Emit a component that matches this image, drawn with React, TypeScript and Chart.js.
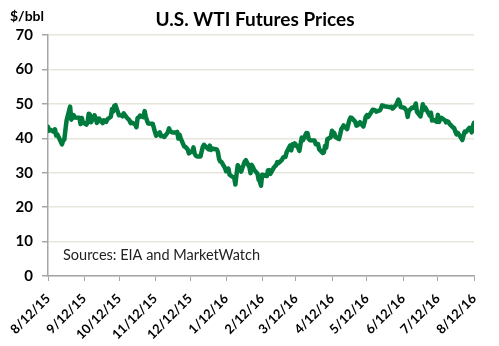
import React, { useEffect, useRef } from "react";
import { Chart, registerables } from "chart.js";

Chart.register(...registerables);

const titleText = "U.S. WTI Futures Prices";
const unitText = "$/bbl";
const sourceText = "Sources: EIA and MarketWatch";

// Trading dates (M/D/YY) and front-month WTI settle prices ($/bbl)
const dates: string[] = [
  "8/12/15","8/13/15","8/14/15","8/17/15","8/18/15","8/19/15","8/20/15","8/21/15","8/24/15","8/25/15","8/26/15","8/27/15","8/28/15","8/31/15",
  "9/1/15","9/2/15","9/3/15","9/4/15","9/8/15","9/9/15","9/10/15","9/11/15","9/14/15","9/15/15","9/16/15","9/17/15","9/18/15","9/21/15","9/22/15","9/23/15","9/24/15","9/25/15","9/28/15","9/29/15","9/30/15",
  "10/1/15","10/2/15","10/5/15","10/6/15","10/7/15","10/8/15","10/9/15","10/12/15","10/13/15","10/14/15","10/15/15","10/16/15","10/19/15","10/20/15","10/21/15","10/22/15","10/23/15","10/26/15","10/27/15","10/28/15","10/29/15","10/30/15",
  "11/2/15","11/3/15","11/4/15","11/5/15","11/6/15","11/9/15","11/10/15","11/11/15","11/12/15","11/13/15","11/16/15","11/17/15","11/18/15","11/19/15","11/20/15","11/23/15","11/24/15","11/25/15","11/27/15","11/30/15",
  "12/1/15","12/2/15","12/3/15","12/4/15","12/7/15","12/8/15","12/9/15","12/10/15","12/11/15","12/14/15","12/15/15","12/16/15","12/17/15","12/18/15","12/21/15","12/22/15","12/23/15","12/24/15","12/28/15","12/29/15","12/30/15","12/31/15",
  "1/4/16","1/5/16","1/6/16","1/7/16","1/8/16","1/11/16","1/12/16","1/13/16","1/14/16","1/15/16","1/19/16","1/20/16","1/21/16","1/22/16","1/25/16","1/26/16","1/27/16","1/28/16","1/29/16",
  "2/1/16","2/2/16","2/3/16","2/4/16","2/5/16","2/8/16","2/9/16","2/10/16","2/11/16","2/12/16","2/16/16","2/17/16","2/18/16","2/19/16","2/22/16","2/23/16","2/24/16","2/25/16","2/26/16","2/29/16",
  "3/1/16","3/2/16","3/3/16","3/4/16","3/7/16","3/8/16","3/9/16","3/10/16","3/11/16","3/14/16","3/15/16","3/16/16","3/17/16","3/18/16","3/21/16","3/22/16","3/23/16","3/24/16","3/28/16","3/29/16","3/30/16","3/31/16",
  "4/1/16","4/4/16","4/5/16","4/6/16","4/7/16","4/8/16","4/11/16","4/12/16","4/13/16","4/14/16","4/15/16","4/18/16","4/19/16","4/20/16","4/21/16","4/22/16","4/25/16","4/26/16","4/27/16","4/28/16","4/29/16",
  "5/2/16","5/3/16","5/4/16","5/5/16","5/6/16","5/9/16","5/10/16","5/11/16","5/12/16","5/13/16","5/16/16","5/17/16","5/18/16","5/19/16","5/20/16","5/23/16","5/24/16","5/25/16","5/26/16","5/27/16","5/31/16",
  "6/1/16","6/2/16","6/3/16","6/6/16","6/7/16","6/8/16","6/9/16","6/10/16","6/13/16","6/14/16","6/15/16","6/16/16","6/17/16","6/20/16","6/21/16","6/22/16","6/23/16","6/24/16","6/27/16","6/28/16","6/29/16","6/30/16",
  "7/1/16","7/5/16","7/6/16","7/7/16","7/8/16","7/11/16","7/12/16","7/13/16","7/14/16","7/15/16","7/18/16","7/19/16","7/20/16","7/21/16","7/22/16","7/25/16","7/26/16","7/27/16","7/28/16","7/29/16",
  "8/1/16","8/2/16","8/3/16","8/4/16","8/5/16","8/8/16","8/9/16","8/10/16","8/11/16","8/12/16",
];

const prices: number[] = [
  43.3,42.23,42.5,41.87,42.62,40.8,41.14,40.45,38.24,39.31,39.6,42.56,45.22,49.2,
  45.41,46.25,46.75,46.05,45.94,44.15,45.92,44.63,44.0,44.59,47.15,46.9,44.68,46.68,45.83,44.48,44.91,45.7,44.43,45.23,45.09,
  44.74,45.54,46.26,48.53,47.81,49.43,49.63,46.66,46.66,46.64,46.38,47.26,45.89,45.55,45.2,44.38,44.6,43.98,43.2,45.94,46.06,46.59,
  46.14,47.9,46.32,45.2,44.29,44.21,44.21,42.93,41.75,40.74,41.74,40.67,40.75,40.54,40.39,41.75,42.87,42.04,41.71,41.65,
  41.85,39.94,41.08,39.97,37.65,37.51,37.16,36.76,35.62,36.31,37.35,35.52,34.95,34.73,34.74,36.14,37.5,38.1,36.81,37.87,36.6,37.04,
  36.76,35.97,33.97,33.27,33.16,31.41,30.44,30.48,31.2,29.42,28.46,26.55,29.53,32.19,30.34,31.45,32.3,33.22,33.62,
  31.62,29.88,32.28,31.72,30.89,29.69,27.94,27.45,26.21,29.44,29.04,30.66,30.77,29.64,31.48,31.87,32.15,33.07,32.78,33.75,
  34.4,34.66,34.57,35.92,37.9,36.5,38.29,37.84,38.5,37.18,36.34,38.46,40.2,39.44,41.52,41.45,39.79,39.46,39.39,38.28,38.32,38.34,
  36.79,35.7,35.89,37.75,37.26,39.72,40.36,42.17,41.76,41.5,40.36,39.78,41.08,42.63,43.18,43.73,42.64,44.04,45.33,46.03,45.92,
  44.78,43.65,43.78,44.32,44.66,43.44,44.66,46.23,46.7,46.21,47.72,48.31,48.19,48.16,47.75,48.08,48.62,49.56,49.48,49.33,49.1,
  49.01,49.17,48.62,49.69,50.36,51.23,50.56,49.07,48.88,48.49,48.01,46.21,47.98,48.96,48.85,49.13,50.11,47.64,46.33,47.85,49.88,48.33,
  48.99,46.6,47.43,45.14,45.41,44.76,46.8,44.75,45.68,45.95,45.24,44.65,44.94,44.75,44.19,43.13,42.92,41.92,41.14,41.6,
  40.06,39.51,40.83,41.93,41.8,43.02,42.77,41.71,43.49,44.49,
];

const tickLabels: string[] = [
  "8/12/15","9/12/15","10/12/15","11/12/15","12/12/15","1/12/16","2/12/16",
  "3/12/16","4/12/16","5/12/16","6/12/16","7/12/16","8/12/16",
];

const yMin = 0;
const yMax = 70;
const yStep = 10;

function toTime(s: string): number {
  const [m, d, y] = s.split("/").map(Number);
  return Date.UTC(2000 + y, m - 1, d);
}
const t0 = toTime(dates[0]);
const dayOf = (s: string) => Math.round((toTime(s) - t0) / 86400000);

export default function App() {
  const ref = useRef<HTMLCanvasElement | null>(null);

  useEffect(() => {
    document.body.style.margin = "0";
    const canvas = ref.current;
    if (!canvas) return;

    const points = dates.map((d, i) => ({ x: dayOf(d), y: prices[i] }));
    const tickDays = tickLabels.map(dayOf);
    const labelFor = new Map(tickDays.map((d, i) => [d, tickLabels[i]]));

    const textPlugin = {
      id: "texts",
      afterDraw(chart: any) {
        const ctx = chart.ctx;
        ctx.save();
        ctx.fillStyle = "#000";
        ctx.textBaseline = "middle";
        ctx.textAlign = "center";
        ctx.font = "bold 19px Lato";
        ctx.fillText(titleText, 255, 20);
        ctx.textAlign = "left";
        ctx.font = "bold 14px Lato";
        ctx.fillText(unitText, 10, 16);
        ctx.fillStyle = "#222";
        ctx.font = "14.5px Lato";
        ctx.fillText(sourceText, 63, 255);
        ctx.restore();
      },
    };

    const chart = new Chart(canvas, {
      type: "line",
      data: {
        datasets: [
          {
            data: points,
            borderColor: "#007a3d",
            borderWidth: 4.5,
            pointRadius: 0,
            tension: 0,
            fill: false,
            borderJoinStyle: "round",
            borderCapStyle: "round",
          },
        ],
      },
      options: {
        animation: false,
        responsive: false,
        maintainAspectRatio: false,
        layout: { padding: { top: 35, right: 25, left: 0, bottom: 0 } },
        plugins: { legend: { display: false }, tooltip: { enabled: false }, title: { display: false } },
        scales: {
          x: {
            type: "linear",
            min: 0,
            max: tickDays[tickDays.length - 1],
            afterBuildTicks: (scale: any) => {
              scale.ticks = tickDays.map((v) => ({ value: v }));
            },
            afterFit: (scale: any) => {
              scale.height = 70;
            },
            grid: {
              drawOnChartArea: false,
              drawTicks: true,
              tickLength: 5,
              tickColor: "#a6a6a6",
            },
            border: { color: "#a6a6a6", width: 1.5 },
            ticks: {
              autoSkip: false,
              minRotation: 45,
              maxRotation: 45,
              padding: 10,
              color: "#000",
              font: { family: "Lato", size: 13, weight: "bold" },
              callback: (v: any) => labelFor.get(Number(v)) ?? "",
            },
          },
          y: {
            min: yMin,
            max: yMax,
            afterFit: (scale: any) => {
              scale.width = 48;
            },
            grid: {
              color: "#e8e6dc",
              lineWidth: 1.5,
              tickLength: 6,
              tickColor: "#a6a6a6",
            },
            border: { color: "#a6a6a6", width: 1.5 },
            ticks: {
              stepSize: yStep,
              padding: 9,
              color: "#000",
              font: { family: "Lato", size: 15, weight: "bold" },
            },
          },
        },
      },
      plugins: [textPlugin],
    } as any);

    return () => chart.destroy();
  }, []);

  return (
    <div style={{ width: 499, height: 346 }}>
      <canvas ref={ref} width={499} height={346} style={{ display: "block" }} />
    </div>
  );
}
